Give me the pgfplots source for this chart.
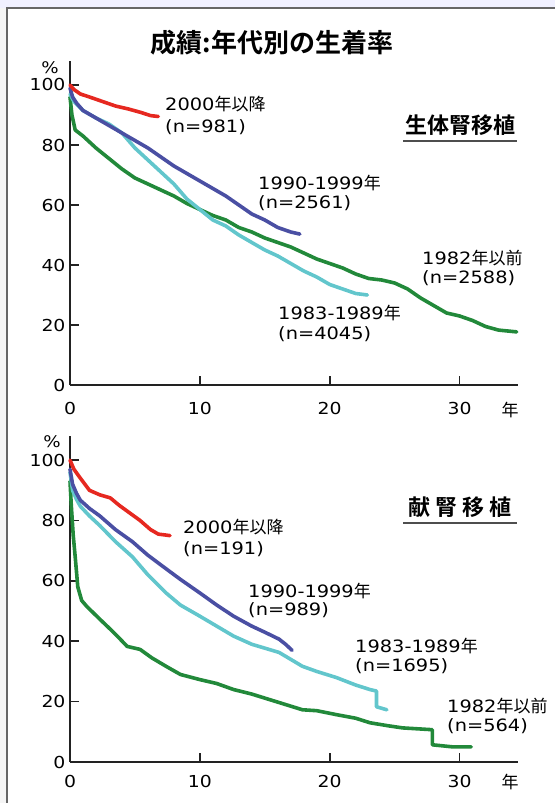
\documentclass[border=0pt]{standalone}
\usepackage{fontspec}
\setmainfont{DejaVu Sans}[FakeStretch=1.14]
\newfontfamily\cjk{Noto Sans CJK JP}[BoldFont={Noto Sans CJK JP Bold}]
\usepackage{pgfplots}
\pgfplotsset{compat=1.18}

\definecolor{cred}{HTML}{E62820}
\definecolor{cblue}{HTML}{4A4FA3}
\definecolor{ccyan}{HTML}{62C6CC}
\definecolor{cgreen}{HTML}{22893A}
\definecolor{axisc}{HTML}{222222}

\pgfplotsset{
  panel/.style={
    scale only axis,
    width=448pt,
    xmin=0, xmax=34.5, ymin=0, ymax=108,
    enlargelimits=false,
    axis lines=left,
    axis line style={-, line width=2.6pt, color=axisc},
    xtick={0,10,20,30}, ytick={0,20,40,60,80,100},
    tick align=inside, major tick length=9pt,
    tick style={line width=1.6pt, color=axisc},
    tick label style={font=\fontsize{16.5}{16.5}\selectfont},
    /pgf/number format/assume math mode=true,
    yticklabel style={anchor=east, xshift=-1pt},
    clip=false,
    every axis plot/.append style={line width=3.6pt, line join=round, line cap=round, no marks},
  },
}
\tikzset{lab/.style={font=\fontsize{17}{17}\selectfont, anchor=west, inner sep=0pt}}

\begin{document}
\begin{tikzpicture}[x=1pt,y=1pt]
\useasboundingbox (0,0) rectangle (555,803);
% frame
\fill[blue!6!white] (0,795) rectangle (555,803);
\fill[gray!8] (0,0) rectangle (7,795);
\draw[gray!80!black, line width=1.5pt] (7,0) -- (7,795) -- (555,795);

\node[font=\cjk\bfseries\fontsize{26}{26}\selectfont] at (272,760) {成績:年代別の生着率};

% ---------- 生体腎移植 ----------
\begin{axis}[panel, height=324pt, at={(70pt,418pt)}, anchor=south west,
  xticklabel style={yshift=-14pt}]
\addplot[cgreen] coordinates {
 (0,96)(0.15,90)(0.4,85)(1,83)(2,79)(3,75.5)(4,72)(5,69)(6,67)(7,65)(8,63)(9,60.5)
 (10,58.5)(11,56.5)(12,55)(13,52.5)(14,51)(15,49)(16,47.5)(17,46)(18,44)(19,42)
 (20,40.5)(21,39)(22,37)(23,35.5)(24,35)(25,34)(26,32)(27,29)(28,26.5)(29,24)
 (30,23)(31,21.5)(32,19.5)(33,18.3)(34.4,17.7)};
\addplot[ccyan] coordinates {
 (0,97)(0.3,94.5)(1,91.5)(2,89)(3,87)(4,84)(5,79)(6,75)(7,71)(8,67)(9,62)
 (10,58.5)(11,55)(12,53)(13,50)(14,47.5)(15,45)(16,43)(17,40.5)(18,38)(19,36)
 (20,33.5)(21,32)(22,30.5)(22.9,30)};
\addplot[cblue] coordinates {
 (0,99)(0.2,96)(0.5,94)(1,91.5)(2,89)(3,86.5)(4,84)(5,81.5)(6,79)(7,76)(8,73)
 (9,70.5)(10,68)(11,65.5)(12,63)(13,60)(14,57)(15,55)(16,52.5)(17,51)(17.7,50.3)};
\addplot[cred] coordinates {
 (0,100)(0.3,98.5)(0.8,97)(1.5,96)(2.5,94.5)(3.5,93)(4.5,92)(5.5,90.8)(6.2,89.8)(6.8,89.5)};
\end{axis}

\node[font=\fontsize{16}{16}\selectfont] at (50,735) {\%};
\node[font=\cjk\fontsize{17}{17}\selectfont] at (510,393) {年};
\node[lab] at (165,699) {2000{\cjk 年以降}};
\node[lab] at (165,676) {(n=981)};
\node[lab] at (258,620) {1990-1999{\cjk 年}};
\node[lab] at (258,600) {(n=2561)};
\node[lab] at (422,545) {1982{\cjk 年以前}};
\node[lab] at (422,525) {(n=2588)};
\node[lab] at (278,490) {1983-1989{\cjk 年}};
\node[lab] at (278,469) {(n=4045)};
\node[font=\cjk\bfseries\fontsize{22}{22}\selectfont] at (460,678) {生体腎移植};
\draw[axisc!80, line width=1.8pt] (403,662) -- (517,662);

% ---------- 献腎移植 ----------
\begin{axis}[panel, height=326pt, at={(70pt,41pt)}, anchor=south west,
  xticklabel style={yshift=-10pt}]
\addplot[cgreen] coordinates {
 (0,93)(0.1,85)(0.25,75)(0.4,68)(0.6,58)(0.9,53.5)(1.3,51.5)(2.3,47.3)(3.1,44)
 (3.8,41)(4.4,38.3)(5.4,37.3)(6.3,34.5)(7.4,31.7)(8.5,29)(10,27.3)(11.3,26)
 (12.6,24)(14,22.5)(16.1,19.7)(17.9,17.3)(19,17)(20.5,15.7)(22,14.5)(23.1,13)
 (24.5,12)(25.6,11.3)(27.9,10.7)(27.9,5.7)(29.5,5)(30.9,5)};
\addplot[ccyan] coordinates {
 (0,96)(0.2,90)(0.5,87)(0.8,84.7)(1.5,81.5)(2.3,78.3)(3.5,73)(4.8,68)(6,62)
 (7.4,56)(8.5,52)(10,48.3)(11.3,45)(12.6,41.7)(14,39)(16.1,36.3)(17.9,31.7)
 (19,30)(20.5,28)(22,25.5)(23.1,24)(23.6,23.5)(23.6,18.3)(24,17.8)(24.4,17.3)};
\addplot[cblue] coordinates {
 (0,97)(0.2,92)(0.5,89)(0.8,86.7)(1.5,84)(2.3,81.5)(3.5,77)(4.8,73)(6,68.5)
 (7.4,64)(8.5,60.5)(10,56)(11.3,52)(12.6,48.3)(14,45)(15,43)(16.1,40.7)
 (16.6,39)(17.1,37)};
\addplot[cred] coordinates {
 (0,100)(0.3,97)(0.8,94)(1.5,90)(2.3,88.5)(3.1,87.5)(3.8,85)(4.6,82.5)(5.4,80)
 (6.2,77)(6.8,75.5)(7.7,75)};
\end{axis}

\node[font=\fontsize{16}{16}\selectfont] at (52,361) {\%};
\node[font=\cjk\fontsize{17}{17}\selectfont] at (510,21) {年};
\node[lab] at (183,276) {2000{\cjk 年以降}};
\node[lab] at (183,254) {(n=191)};
\node[lab] at (248,212) {1990-1999{\cjk 年}};
\node[lab] at (248,193) {(n=989)};
\node[lab] at (355,157) {1983-1989{\cjk 年}};
\node[lab] at (355,137) {(n=1695)};
\node[lab] at (447,97) {1982{\cjk 年以前}};
\node[lab] at (447,77) {(n=564)};
\node[font=\cjk\bfseries\fontsize{22}{22}\selectfont] at (460,296)
  {献\hspace{5pt}腎\hspace{5pt}移\hspace{5pt}植};
\draw[axisc!80, line width=1.8pt] (403,280) -- (517,280);
\end{tikzpicture}
\end{document}
